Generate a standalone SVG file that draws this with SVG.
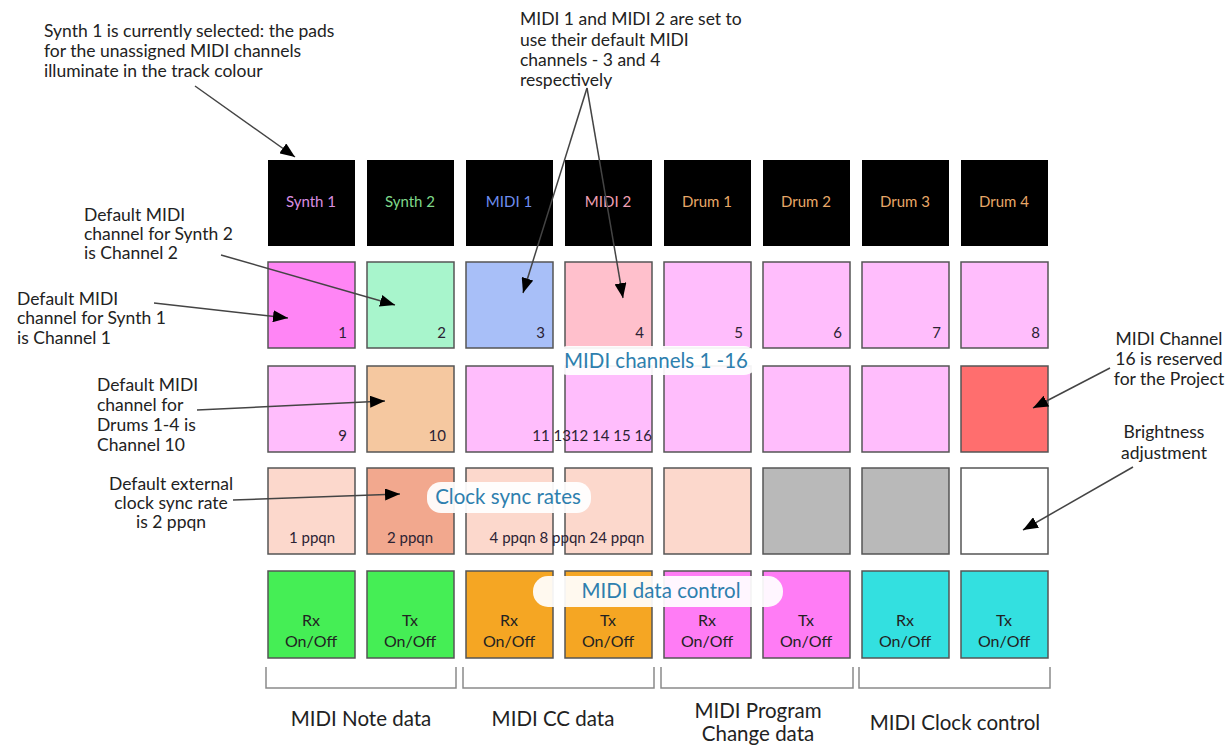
<svg xmlns="http://www.w3.org/2000/svg" width="1229" height="751" viewBox="0 0 1229 751">
<style>
.note{font-family:Lato,"Noto Sans",sans-serif;font-size:17.5px;fill:#222}
.pad{stroke:#555;stroke-width:1.5}
.blk{fill:#000}
.trk{font-family:Lato,"Noto Sans",sans-serif;font-size:15px;text-anchor:middle}
.num{font-family:Lato,"Noto Sans",sans-serif;font-size:15px;fill:#2b2233;text-anchor:end}
.ppq{font-family:Lato,"Noto Sans",sans-serif;font-size:15px;fill:#2b2233;text-anchor:middle}
.rx{font-family:Lato,"Noto Sans",sans-serif;font-size:16px;fill:#222;text-anchor:middle}
.pill{fill:#fff;opacity:0.93}
.plbl{font-family:Lato,"Noto Sans",sans-serif;font-size:20.5px;fill:#2e7fae;text-anchor:middle}
.grp{font-family:Lato,"Noto Sans",sans-serif;font-size:20.5px;fill:#222;text-anchor:middle}
.brk{fill:none;stroke:#8a8a8a;stroke-width:1.5}
.con{stroke:#444;stroke-width:1.5;fill:none;marker-end:url(#ah)}
</style>
<defs>
<marker id="ah" markerUnits="userSpaceOnUse" markerWidth="16" markerHeight="12" refX="15" refY="6" orient="auto">
<path d="M0,0 L15,6 L0,12 Z" fill="#000"/>
</marker>
</defs>
<rect width="1229" height="751" fill="#fff"/>

<!-- Annotations -->
<g id="note-synth1-selected">
<text class="note" x="44" y="37">Synth 1 is currently selected: the pads</text>
<text class="note" x="44" y="57">for the unassigned MIDI channels</text>
<text class="note" x="44" y="77">illuminate in the track colour</text>
</g>
<g id="note-midi-default">
<text class="note" x="520" y="25">MIDI 1 and MIDI 2 are set to</text>
<text class="note" x="520" y="46">use their default MIDI</text>
<text class="note" x="520" y="66">channels - 3 and 4</text>
<text class="note" x="520" y="86">respectively</text>
</g>
<g id="note-synth2">
<text class="note" x="84" y="221">Default MIDI</text>
<text class="note" x="84" y="240">channel for Synth 2</text>
<text class="note" x="84" y="259">is Channel 2</text>
</g>
<g id="note-synth1">
<text class="note" x="17" y="305">Default MIDI</text>
<text class="note" x="17" y="324">channel for Synth 1</text>
<text class="note" x="17" y="344">is Channel 1</text>
</g>
<g id="note-drums">
<text class="note" x="97" y="391">Default MIDI</text>
<text class="note" x="97" y="411">channel for</text>
<text class="note" x="97" y="431">Drums 1-4 is</text>
<text class="note" x="97" y="451">Channel 10</text>
</g>
<g id="note-clock">
<text class="note" x="171" y="490" text-anchor="middle">Default external</text>
<text class="note" x="171" y="509" text-anchor="middle">clock sync rate</text>
<text class="note" x="171" y="528" text-anchor="middle">is 2 ppqn</text>
</g>
<g id="note-ch16">
<text class="note" x="1169" y="345" text-anchor="middle">MIDI Channel</text>
<text class="note" x="1169" y="365" text-anchor="middle">16 is reserved</text>
<text class="note" x="1169" y="385" text-anchor="middle">for the Project</text>
</g>
<g id="note-brightness">
<text class="note" x="1164" y="438" text-anchor="middle">Brightness</text>
<text class="note" x="1164" y="459" text-anchor="middle">adjustment</text>
</g>

<!-- Track pads -->
<g id="track-synth1"><rect class="blk" x="268" y="160" width="87" height="86"/><text class="trk" x="311" y="207" fill="#d98ee0">Synth 1</text></g>
<g id="track-synth2"><rect class="blk" x="367" y="160" width="87" height="86"/><text class="trk" x="410" y="207" fill="#7fd88a">Synth 2</text></g>
<g id="track-midi1"><rect class="blk" x="466" y="160" width="87" height="86"/><text class="trk" x="509" y="207" fill="#6f8ff0">MIDI 1</text></g>
<g id="track-midi2"><rect class="blk" x="565" y="160" width="87" height="86"/><text class="trk" x="608" y="207" fill="#f0a0b4">MIDI 2</text></g>
<g id="track-drum1"><rect class="blk" x="664" y="160" width="87" height="86"/><text class="trk" x="707" y="207" fill="#e8a868">Drum 1</text></g>
<g id="track-drum2"><rect class="blk" x="763" y="160" width="87" height="86"/><text class="trk" x="806" y="207" fill="#e8a868">Drum 2</text></g>
<g id="track-drum3"><rect class="blk" x="862" y="160" width="87" height="86"/><text class="trk" x="905" y="207" fill="#e8a868">Drum 3</text></g>
<g id="track-drum4"><rect class="blk" x="961" y="160" width="87" height="86"/><text class="trk" x="1004" y="207" fill="#e8a868">Drum 4</text></g>

<!-- MIDI channel pads row 1 -->
<g id="ch1"><rect class="pad" x="268" y="262" width="87" height="86" fill="#ff85f5"/><text class="num" x="347" y="338">1</text></g>
<g id="ch2"><rect class="pad" x="367" y="262" width="87" height="86" fill="#a8f5cc"/><text class="num" x="446" y="338">2</text></g>
<g id="ch3"><rect class="pad" x="466" y="262" width="87" height="86" fill="#a8bff8"/><text class="num" x="545" y="338">3</text></g>
<g id="ch4"><rect class="pad" x="565" y="262" width="87" height="86" fill="#ffc0cc"/><text class="num" x="644" y="338">4</text></g>
<g id="ch5"><rect class="pad" x="664" y="262" width="87" height="86" fill="#ffbdfc"/><text class="num" x="743" y="338">5</text></g>
<g id="ch6"><rect class="pad" x="763" y="262" width="87" height="86" fill="#ffbdfc"/><text class="num" x="842" y="338">6</text></g>
<g id="ch7"><rect class="pad" x="862" y="262" width="87" height="86" fill="#ffbdfc"/><text class="num" x="941" y="338">7</text></g>
<g id="ch8"><rect class="pad" x="961" y="262" width="87" height="86" fill="#ffbdfc"/><text class="num" x="1040" y="338">8</text></g>

<!-- MIDI channel pads row 2 -->
<g id="ch9"><rect class="pad" x="268" y="366" width="87" height="86" fill="#ffbdfc"/><text class="num" x="347" y="441">9</text></g>
<g id="ch10"><rect class="pad" x="367" y="366" width="87" height="86" fill="#f5c8a0"/><text class="num" x="446" y="441">10</text></g>
<g id="ch11"><rect class="pad" x="466" y="366" width="87" height="86" fill="#ffbdfc"/></g>
<g id="ch12"><rect class="pad" x="565" y="366" width="87" height="86" fill="#ffbdfc"/></g>
<g id="ch13"><rect class="pad" x="664" y="366" width="87" height="86" fill="#ffbdfc"/></g>
<g id="ch14"><rect class="pad" x="763" y="366" width="87" height="86" fill="#ffbdfc"/></g>
<g id="ch15"><rect class="pad" x="862" y="366" width="87" height="86" fill="#ffbdfc"/></g>
<g id="ch16"><rect class="pad" x="961" y="366" width="87" height="86" fill="#ff6e6e"/></g>
<text class="num" x="652" y="441" style="text-anchor:end">11 1312 14 15 16</text>

<!-- Clock sync row -->
<g id="sync1"><rect class="pad" x="268" y="468" width="87" height="86" fill="#fcd8cc"/><text class="ppq" x="312" y="543">1 ppqn</text></g>
<g id="sync2"><rect class="pad" x="367" y="468" width="87" height="86" fill="#f2a88e"/><text class="ppq" x="410" y="543">2 ppqn</text></g>
<g id="sync4"><rect class="pad" x="466" y="468" width="87" height="86" fill="#fcd8cc"/></g>
<g id="sync8"><rect class="pad" x="565" y="468" width="87" height="86" fill="#fcd8cc"/></g>
<text class="ppq" x="567" y="543">4 ppqn 8 ppqn 24 ppqn</text>
<g id="sync-extra"><rect class="pad" x="664" y="468" width="87" height="86" fill="#fcd8cc"/></g>
<g id="grey1"><rect class="pad" x="763" y="468" width="87" height="86" fill="#b9b9b9"/></g>
<g id="grey2"><rect class="pad" x="862" y="468" width="87" height="86" fill="#b9b9b9"/></g>
<g id="brightness"><rect class="pad" x="961" y="468" width="87" height="86" fill="#ffffff"/></g>

<!-- MIDI data control row -->
<g id="note-rx"><rect class="pad" x="268" y="571" width="87" height="87" fill="#45ee55"/><text class="rx" x="311" y="626">Rx</text><text class="rx" x="311" y="647">On/Off</text></g>
<g id="note-tx"><rect class="pad" x="367" y="571" width="87" height="87" fill="#45ee55"/><text class="rx" x="410" y="626">Tx</text><text class="rx" x="410" y="647">On/Off</text></g>
<g id="cc-rx"><rect class="pad" x="466" y="571" width="87" height="87" fill="#f5a623"/><text class="rx" x="509" y="626">Rx</text><text class="rx" x="509" y="647">On/Off</text></g>
<g id="cc-tx"><rect class="pad" x="565" y="571" width="87" height="87" fill="#f5a623"/><text class="rx" x="608" y="626">Tx</text><text class="rx" x="608" y="647">On/Off</text></g>
<g id="pc-rx"><rect class="pad" x="664" y="571" width="87" height="87" fill="#ff7cf5"/><text class="rx" x="707" y="626">Rx</text><text class="rx" x="707" y="647">On/Off</text></g>
<g id="pc-tx"><rect class="pad" x="763" y="571" width="87" height="87" fill="#ff7cf5"/><text class="rx" x="806" y="626">Tx</text><text class="rx" x="806" y="647">On/Off</text></g>
<g id="clk-rx"><rect class="pad" x="862" y="571" width="87" height="87" fill="#33e0e0"/><text class="rx" x="905" y="626">Rx</text><text class="rx" x="905" y="647">On/Off</text></g>
<g id="clk-tx"><rect class="pad" x="961" y="571" width="87" height="87" fill="#33e0e0"/><text class="rx" x="1004" y="626">Tx</text><text class="rx" x="1004" y="647">On/Off</text></g>

<!-- Section labels -->
<g id="label-channels"><rect class="pill" x="555" y="346" width="202" height="29" rx="13"/><text class="plbl" x="656" y="368">MIDI channels 1 -16</text></g>
<g id="label-clock"><rect class="pill" x="427" y="482" width="164" height="31" rx="14"/><text class="plbl" x="508" y="504">Clock sync rates</text></g>
<g id="label-data"><rect class="pill" x="533" y="576" width="250" height="31" rx="15"/><text class="plbl" x="661" y="598">MIDI data control</text></g>

<!-- Brackets and group labels -->
<g id="group-note"><path class="brk" d="M266,667 V688 H456 V667"/><text class="grp" x="361" y="726">MIDI Note data</text></g>
<g id="group-cc"><path class="brk" d="M463,667 V688 H654 V667"/><text class="grp" x="553" y="726">MIDI CC data</text></g>
<g id="group-pc"><path class="brk" d="M661,667 V688 H853 V667"/><text class="grp" x="758" y="718">MIDI Program</text><text class="grp" x="758" y="741">Change data</text></g>
<g id="group-clock"><path class="brk" d="M859,667 V688 H1050 V667"/><text class="grp" x="955" y="730">MIDI Clock control</text></g>

<!-- Connectors -->
<g id="connectors">
<line class="con" x1="195" y1="86" x2="295" y2="157"/>
<line class="con" x1="587" y1="88" x2="523" y2="293"/>
<line class="con" x1="587" y1="88" x2="623" y2="298"/>
<line class="con" x1="221" y1="255" x2="395" y2="305"/>
<line class="con" x1="154" y1="303" x2="288" y2="318"/>
<line class="con" x1="197" y1="410" x2="385" y2="401"/>
<line class="con" x1="233" y1="500" x2="400" y2="494"/>
<line class="con" x1="1110" y1="368" x2="1033" y2="408"/>
<line class="con" x1="1133" y1="467" x2="1023" y2="530"/>
</g>
</svg>
